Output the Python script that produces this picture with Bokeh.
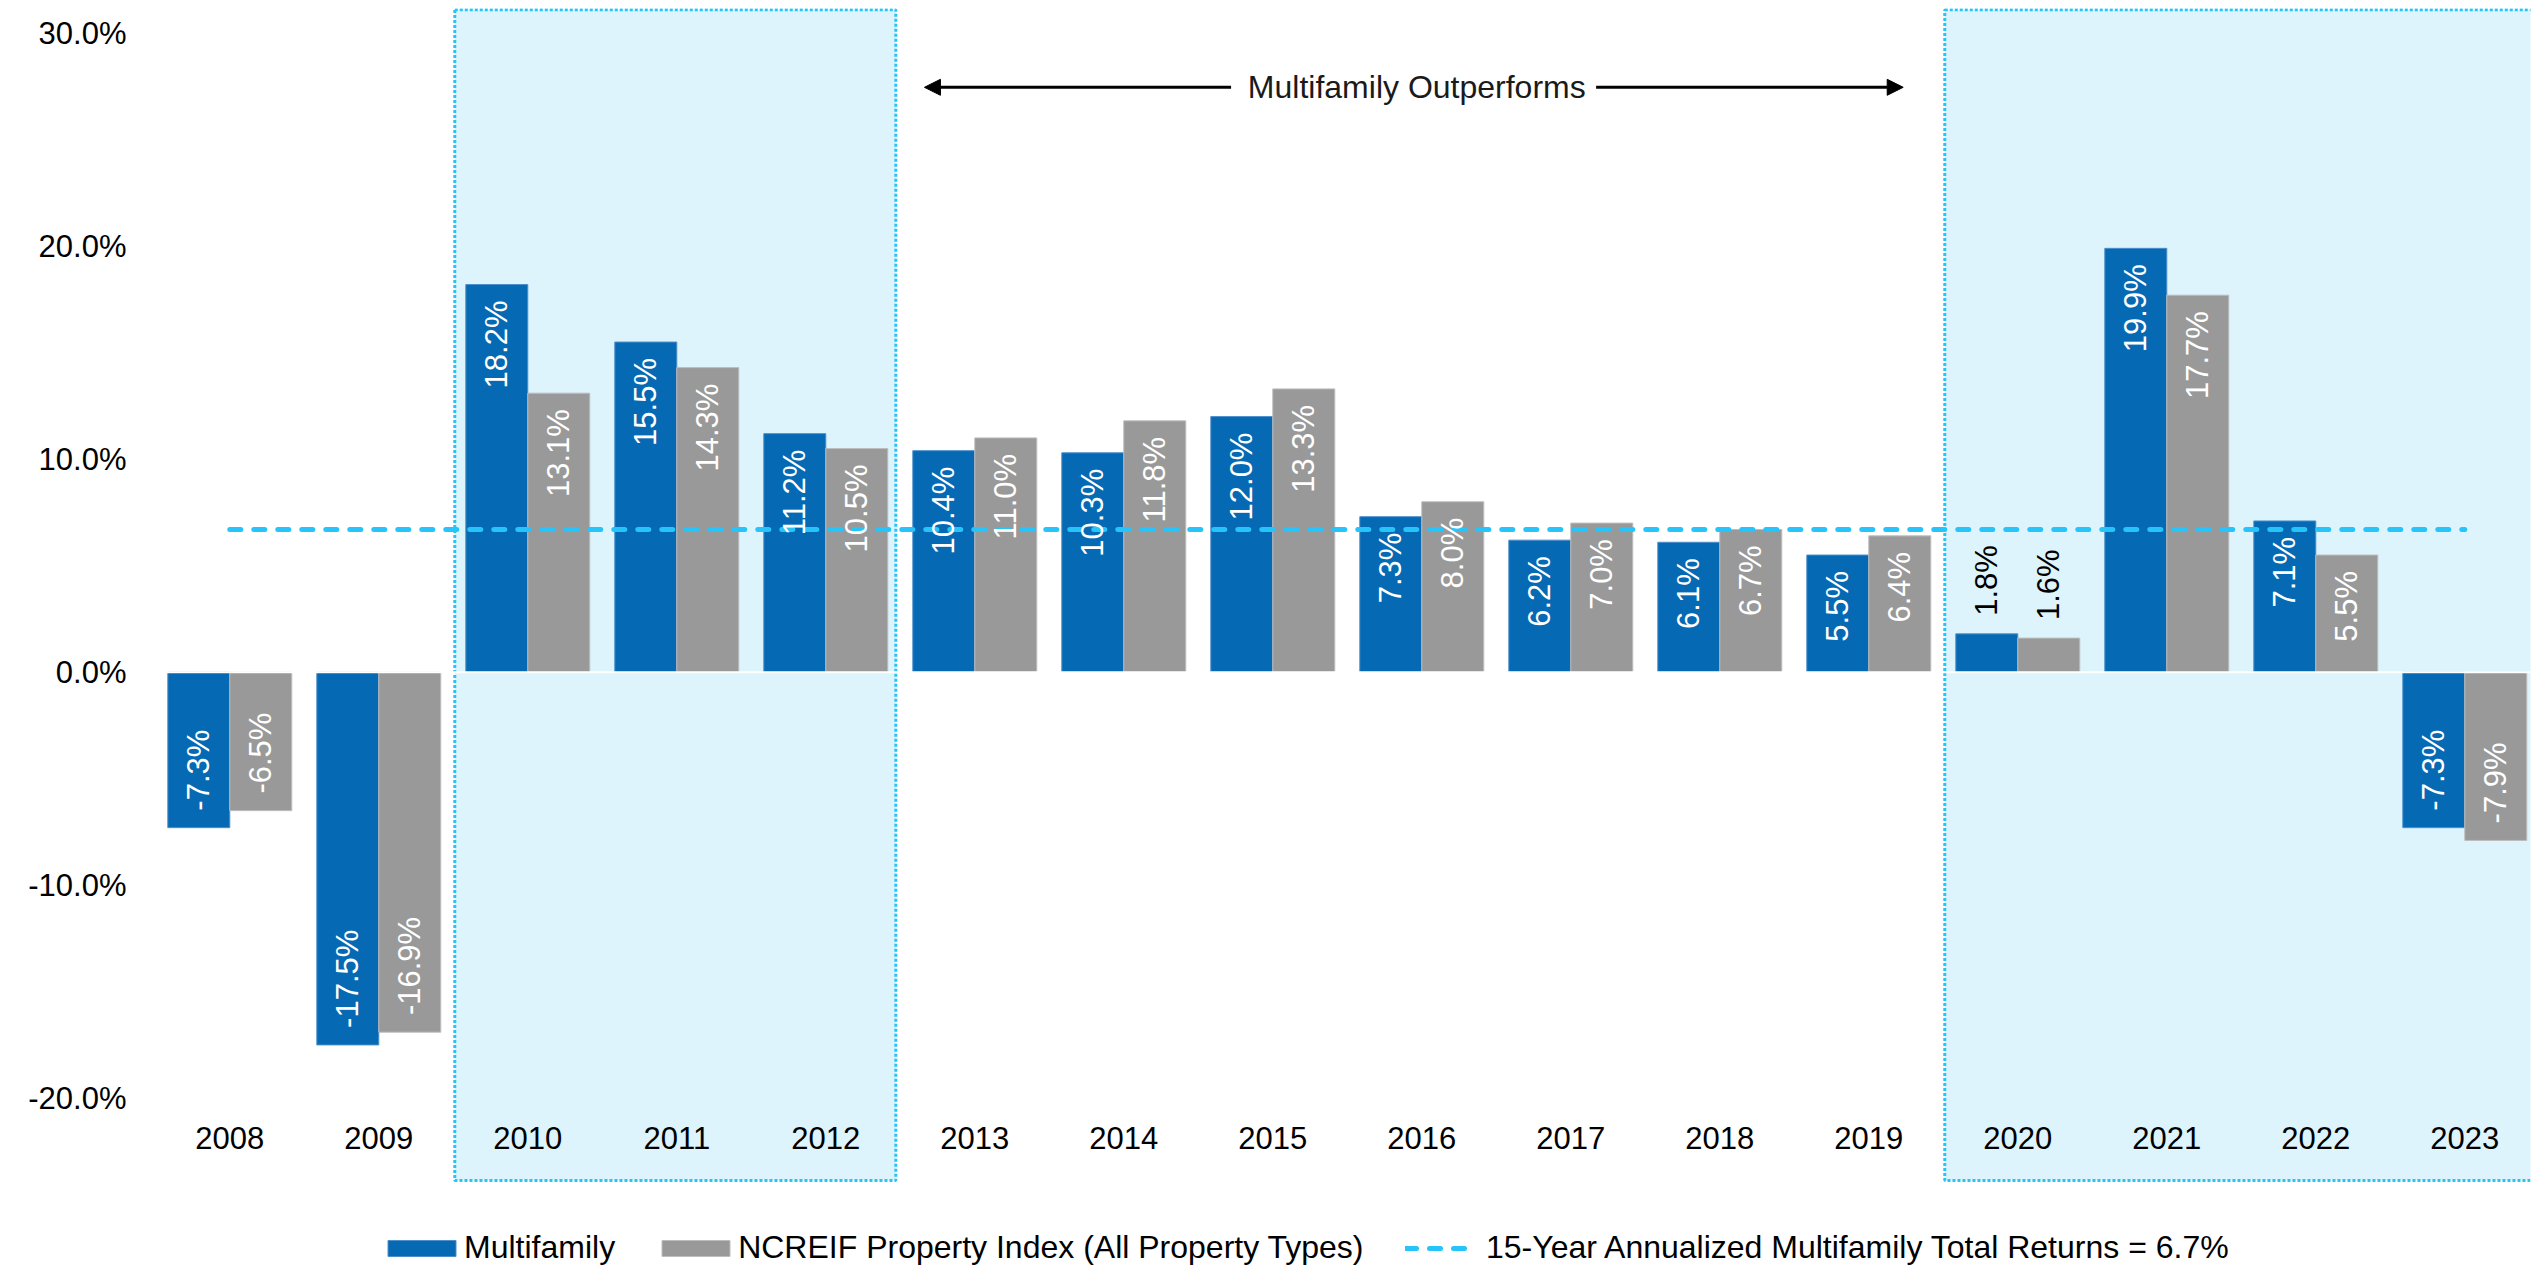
from bokeh.plotting import figure
from bokeh.models import (Range1d, FixedTicker, Span, Arrow, NormalHead, Legend, LegendItem,
                          ColumnDataSource, Label)
from bokeh.core.properties import value
from bokeh.embed import file_html
from bokeh.resources import INLINE

# ---------------- data ----------------
years = ["2008", "2009", "2010", "2011", "2012", "2013", "2014", "2015",
         "2016", "2017", "2018", "2019", "2020", "2021", "2022", "2023"]
multifamily = [-7.3, -17.5, 18.2, 15.5, 11.2, 10.4, 10.3, 12.0,
               7.3, 6.2, 6.1, 5.5, 1.8, 19.9, 7.1, -7.3]
ncreif = [-6.5, -16.9, 13.1, 14.3, 10.5, 11.0, 11.8, 13.3,
          8.0, 7.0, 6.7, 6.4, 1.6, 17.7, 5.5, -7.9]
annualized_return = 6.7
shade_start = ["2010", "2020"]
shade_end = ["2012", "2023"]
outperform_from = "2013"
outperform_to = "2019"
y_ticks = [-20, -10, 0, 10, 20, 30]

series_names = ["Multifamily", "NCREIF Property Index (All Property Types)"]
line_name = "15-Year Annualized Multifamily Total Returns = 6.7%"

# ---------------- styling ----------------
FONT = value("Liberation Sans")
BLUE = "#0569B3"
GRAY = "#999999"
CYAN = "#26C4F9"
SHADE = "#DDF4FD"
BAR_W = 0.416
DODGE = 0.208

idx = list(range(len(years)))

p = figure(width=2531, height=1267,
           x_range=Range1d(-0.512, 15.441), y_range=Range1d(-27.95, 31.16),
           x_axis_type=None, output_backend="svg", toolbar_location=None,
           min_border_left=153, min_border_right=1, min_border_top=8, min_border_bottom=0)
p.outline_line_color = None
p.grid.grid_line_color = None
p.background_fill_color = "white"
p.border_fill_color = "white"

# shaded periods
ql = [years.index(s) - 0.49 for s in shade_start]
qr = [years.index(e) + 0.47 for e in shade_end]
p.quad(left=ql, right=qr, top=[31.1] * len(ql), bottom=[-23.86] * len(ql),
       fill_color=SHADE, line_color=CYAN, line_width=3, line_dash="3 2")

# bars
r_mf = p.vbar(x=[i - DODGE for i in idx], top=multifamily, bottom=0, width=BAR_W,
              fill_color=BLUE, line_color="#4C8FCB", line_width=1)
r_nc = p.vbar(x=[i + DODGE for i in idx], top=ncreif, bottom=0, width=BAR_W,
              fill_color=GRAY, line_color="#BDBDBD", line_width=1)

# zero line
p.add_layout(Span(location=0, dimension="width", line_color="white", line_width=2))

# annualized line
r_line = p.line(x=[idx[0], idx[-1]], y=[annualized_return, annualized_return],
                line_color=CYAN, line_width=5, line_dash="11 13", line_cap="round")

# data labels
lx, ly, lt, la, lc = [], [], [], [], []
for vals, off in ((multifamily, -DODGE), (ncreif, DODGE)):
    for i, v in zip(idx, vals):
        lx.append(i + off)
        lt.append(f"{v:.1f}%")
        if abs(v) < 4:
            ly.append(v + 0.85 if v >= 0 else v - 0.85)
            la.append("left" if v >= 0 else "right")
            lc.append("black")
        elif v > 0:
            ly.append(v - 0.75)
            la.append("right")
            lc.append("white")
        else:
            ly.append(v + 0.8)
            la.append("left")
            lc.append("white")
src = ColumnDataSource(dict(x=lx, y=ly, text=lt, align=la, color=lc))
p.text(x="x", y="y", text="text", source=src, angle=1.5707963, text_align="align",
       text_baseline="middle", text_color="color", text_font=FONT, text_font_size="31px")

# year labels
p.text(x=idx, y=[-21.87] * len(idx), text=years, text_align="center", text_baseline="middle",
       text_color="black", text_font=FONT, text_font_size="31px")

# y axis
ax = p.yaxis[0]
ax.ticker = FixedTicker(ticks=y_ticks)
ax.major_label_overrides = {t: f"{t:.1f}%" for t in y_ticks}
ax.axis_line_color = None
ax.major_tick_line_color = None
ax.minor_tick_line_color = None
ax.major_tick_in = 0
ax.major_tick_out = 0
ax.major_label_standoff = 27
ax.major_label_text_font = "Liberation Sans"
ax.major_label_text_font_size = "31px"
ax.major_label_text_color = "black"

# outperform annotation
ay = 27.46
x0 = years.index(outperform_from)
x1 = years.index(outperform_to)
mid = (x0 + x1) / 2
p.add_layout(Label(x=mid, y=ay, x_offset=-5, text="Multifamily Outperforms", text_align="center",
                   text_baseline="middle", text_font="Liberation Sans", text_font_size="32px",
                   text_color="#1a1a1a"))
p.add_layout(Arrow(end=NormalHead(size=16, fill_color="black", line_color="black"),
                   x_start=mid - 1.28, y_start=ay, x_end=x0 - 0.338, y_end=ay,
                   line_width=3, line_color="black"))
p.add_layout(Arrow(end=NormalHead(size=16, fill_color="black", line_color="black"),
                   x_start=mid + 1.17, y_start=ay, x_end=x1 + 0.231, y_end=ay,
                   line_width=3, line_color="black"))

# legends
common = dict(orientation="horizontal", padding=0, margin=0, background_fill_alpha=0,
              border_line_color=None, label_text_font="Liberation Sans",
              label_text_font_size="32px", label_text_color="black", label_height=16)
legend_bars = Legend(items=[LegendItem(label=series_names[0], renderers=[r_mf]),
                            LegendItem(label=series_names[1], renderers=[r_nc])],
                     location=(226, 1), spacing=38, label_standoff=0,
                     glyph_width=85, glyph_height=20, **common)
legend_line = Legend(items=[LegendItem(label=line_name, renderers=[r_line])],
                     location=(1252, 1), spacing=0, label_standoff=17,
                     glyph_width=64, glyph_height=20, **common)
p.add_layout(legend_bars)
p.add_layout(legend_line)

open("out.html", "w").write(file_html(p, INLINE))
